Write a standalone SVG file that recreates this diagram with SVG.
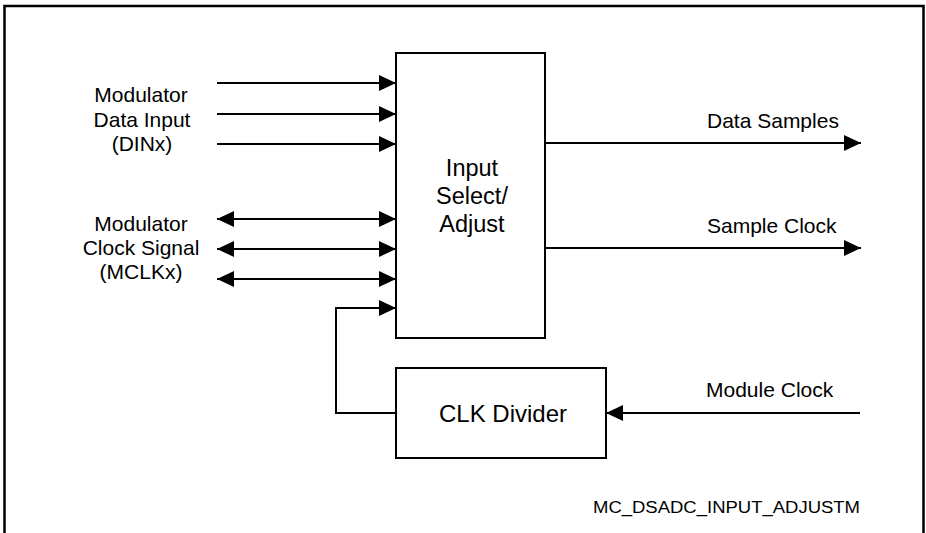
<svg xmlns="http://www.w3.org/2000/svg" width="926" height="533" viewBox="0 0 926 533">
<defs>
<style>
.ln{stroke:#000;stroke-width:2;fill:none}
.box{stroke:#000;stroke-width:2;fill:#fff}
.t{font-family:"Liberation Sans",Arial,sans-serif;font-size:21px;fill:#000}
.big{font-size:23.5px}
.m{text-anchor:middle}
.small{font-family:"Liberation Sans",Arial,sans-serif;font-size:16px;fill:#000}
</style>
<marker id="ah" markerUnits="userSpaceOnUse" markerWidth="18" markerHeight="17" refX="17" refY="8.5" orient="auto-start-reverse">
<path d="M0,0.5 L17,8.5 L0,16.5 z" fill="#000"/>
</marker>
</defs>
<rect width="926" height="533" fill="#fff"/>
<path d="M4.5,533 V6 H923.5 V533" fill="none" stroke="#000" stroke-width="2.5"/>

<g id="connectors">
<line class="ln" x1="217" y1="83" x2="396" y2="83" marker-end="url(#ah)"/>
<line class="ln" x1="217" y1="114" x2="396" y2="114" marker-end="url(#ah)"/>
<line class="ln" x1="217" y1="144" x2="396" y2="144" marker-end="url(#ah)"/>
<line class="ln" x1="217" y1="219" x2="396" y2="219" marker-start="url(#ah)" marker-end="url(#ah)"/>
<line class="ln" x1="217" y1="249" x2="396" y2="249" marker-start="url(#ah)" marker-end="url(#ah)"/>
<line class="ln" x1="217" y1="279" x2="396" y2="279" marker-start="url(#ah)" marker-end="url(#ah)"/>
<path class="ln" d="M396,413 H336 V308 H396" marker-end="url(#ah)"/>
<line class="ln" x1="545" y1="143" x2="861" y2="143" marker-end="url(#ah)"/>
<line class="ln" x1="545" y1="248" x2="861" y2="248" marker-end="url(#ah)"/>
<line class="ln" x1="860" y1="413" x2="606" y2="413" marker-end="url(#ah)"/>
</g>

<g id="input-select-adjust">
<rect class="box" x="396" y="53" width="149" height="285"/>
<text class="t big m" x="472" y="176">Input</text>
<text class="t big m" x="472" y="204">Select/</text>
<text class="t big m" x="472" y="232">Adjust</text>
</g>

<g id="clk-divider">
<rect class="box" x="396" y="368" width="210" height="90"/>
<text class="t m" x="503" y="422" style="font-size:24px">CLK Divider</text>
</g>

<g id="labels">
<text class="t m" x="141" y="102">Modulator</text>
<text class="t m" x="142" y="127">Data Input</text>
<text class="t m" x="142" y="151">(DINx)</text>
<text class="t m" x="141" y="231">Modulator</text>
<text class="t m" x="141" y="255">Clock Signal</text>
<text class="t m" x="141" y="279">(MCLKx)</text>
<text class="t" x="707" y="128">Data Samples</text>
<text class="t" x="707" y="233">Sample Clock</text>
<text class="t" x="706" y="397">Module Clock</text>
<text class="small" x="593" y="513" textLength="267" lengthAdjust="spacingAndGlyphs">MC_DSADC_INPUT_ADJUSTM</text>
</g>
</svg>
